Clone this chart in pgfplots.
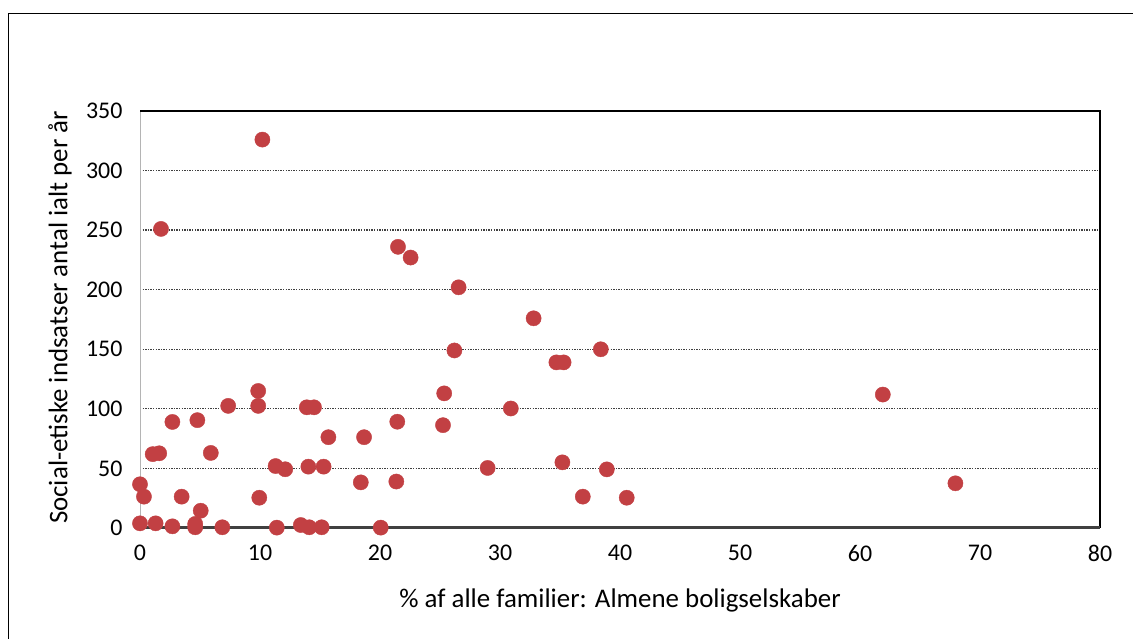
\documentclass[border=0pt]{standalone}
\usepackage{fontspec}
\setmainfont{Carlito}
\usepackage{pgfplots}
\pgfplotsset{compat=1.18}
\definecolor{ptred}{RGB}{194,64,67}
\definecolor{griddark}{RGB}{64,64,64}
\definecolor{axisgray}{RGB}{180,180,180}
\begin{document}
\begin{tikzpicture}[x=1bp,y=1bp]
\path[use as bounding box] (0,0) rectangle (1133,639);
\draw[line width=1.5bp,black] (8.5,0) -- (8.5,625.5) -- (1133,625.5);
\begin{axis}[
  at={(140bp,111bp)}, anchor=south west,
  scale only axis, width=960bp, height=417bp,
  xmin=0, xmax=80, ymin=0, ymax=350,
  xtick={0,10,...,80}, ytick={0,50,...,350},
  major tick length=0pt,
  axis line style={draw=none},
  ymajorgrids,
  major grid style={griddark, line width=1.3bp, dash pattern=on 1.4bp off 1.2bp},
  clip=false,
  /pgf/number format/assume math mode=true,
  tick label style={font=\fontsize{24}{28}\selectfont},
  x tick label style={yshift=-13.5bp},
  y tick label style={xshift=-14bp},
  xlabel={\% af alle familier: Almene boligselskaber},
  ylabel={Social-etiske indsatser antal ialt per år},
  label style={font=\fontsize{27}{32}\selectfont},
  xlabel style={at={(axis description cs:0.5,-0.1727)}, anchor=center},
  ylabel style={at={(axis description cs:-0.0833,0.505)}, anchor=center},
]
\draw[axisgray, line width=1bp] (rel axis cs:0,0) -- (rel axis cs:0,1);
\draw[black, line width=1.8bp] (rel axis cs:0,1) -- (rel axis cs:1,1) -- (rel axis cs:1,0);
\draw[griddark, line width=3bp] (rel axis cs:0,0) -- (rel axis cs:1,0);
\addplot[only marks, mark=*, mark size=7.6bp, mark options={draw=ptred, fill=ptred}] coordinates {
(10.2,326) (1.75,251) (21.5,236) (22.55,227) (26.55,202) (32.8,176)
(26.2,149) (38.4,150) (34.7,139) (35.3,139) (61.9,112) (25.35,113)
(9.85,115) (9.85,102.5) (7.35,102.5) (13.9,101.3) (14.5,101.3) (30.9,100.3)
(2.7,89) (4.78,90.5) (21.44,89.2) (25.25,86.3) (15.7,76.2) (18.67,76.2)
(5.9,63) (1.06,62) (1.6,62.7) (11.3,52) (12.1,49.3) (14.03,51.5)
(15.3,51.5) (28.97,50.4) (35.2,55.1) (38.9,49.2) (18.4,38.3) (21.36,39)
(67.95,37.5) (0,36.7) (0.33,26.3) (3.47,26.3) (9.94,25.4) (36.9,26.3)
(40.56,25.4) (5.06,14.5) (0,3.9) (1.3,3.9) (2.7,1.4) (4.6,3.4)
(4.6,0.6) (6.86,0.6) (11.4,0.3) (13.4,2.5) (14.1,0.6) (15.14,0.6) (20.06,0.3)
};
\end{axis}
\end{tikzpicture}
\end{document}
